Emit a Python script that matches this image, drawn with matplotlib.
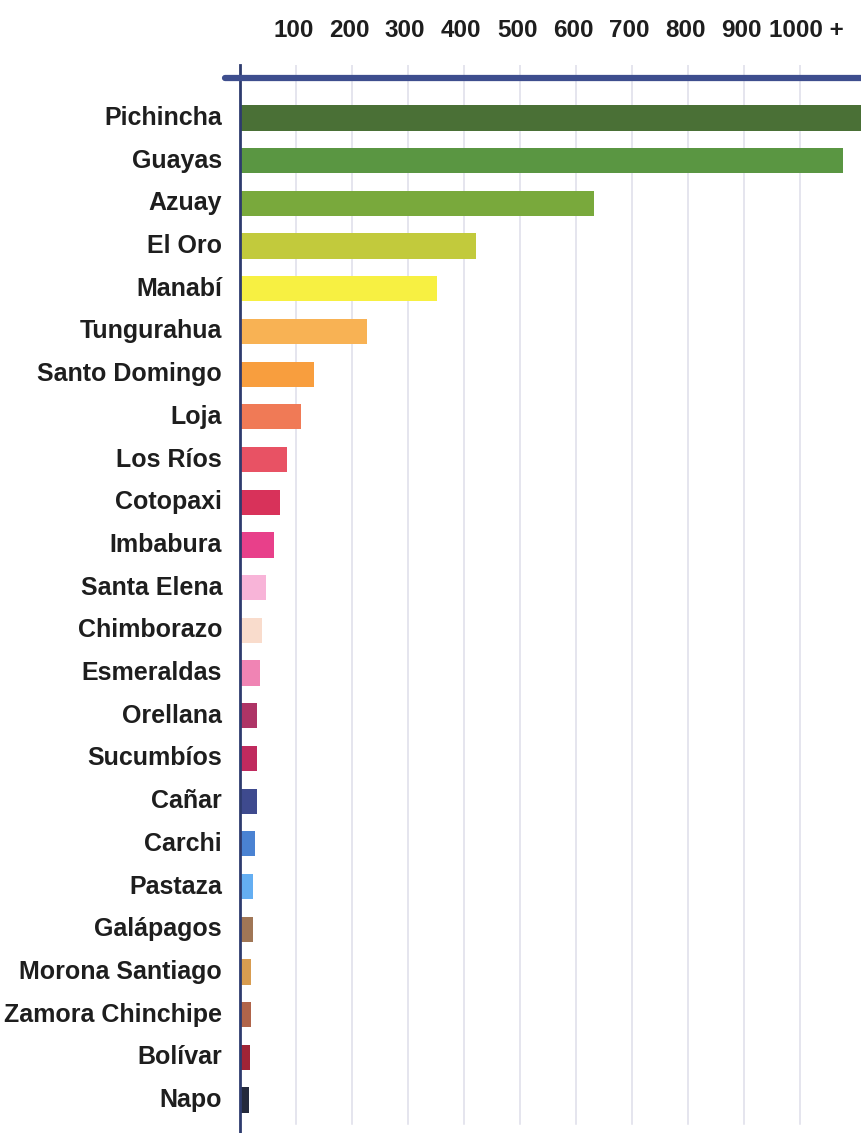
import matplotlib
matplotlib.use("Agg")
import matplotlib.pyplot as plt
import numpy as np

provinces = ["Pichincha", "Guayas", "Azuay", "El Oro", "Manabí", "Tungurahua",
             "Santo Domingo", "Loja", "Los Ríos", "Cotopaxi", "Imbabura",
             "Santa Elena", "Chimborazo", "Esmeraldas", "Orellana", "Sucumbíos",
             "Cañar", "Carchi", "Pastaza", "Galápagos", "Morona Santiago",
             "Zamora Chinchipe", "Bolívar", "Napo"]
values = [1150, 1075, 630, 420, 350, 225, 130, 107, 82, 70, 59, 45, 37, 34,
          29, 29, 29, 24, 21, 21, 18, 17, 16, 14]
colors = ["#4a7036", "#5a9642", "#79a93c", "#c2ca3c", "#f7f042", "#f8b254",
          "#f89e3e", "#f07a56", "#e85264", "#d8325a", "#e8408a", "#f8b4d8",
          "#f9dccc", "#f084b4", "#ae3466", "#c02a5e", "#3e4a8e", "#4a82d2",
          "#64aef2", "#a07656", "#d89c50", "#b0644a", "#a02436", "#242a3c"]
tick_values = [100, 200, 300, 400, 500, 600, 700, 800, 900, 1000]
tick_labels = ["100", "200", "300", "400", "500", "600", "700", "800", "900", "1000 +"]

W, H = 862, 1133
fig = plt.figure(figsize=(W / 100, H / 100), dpi=100)

x0_px, x1_px = 240, 862
top_px, bot_px = 65, 1133
ax = fig.add_axes([x0_px / W, 1 - bot_px / H, (x1_px - x0_px) / W, (bot_px - top_px) / H])

px_per_unit = 0.56
xmax = (x1_px - x0_px) / px_per_unit
row_px = (1100 - 118) / (len(provinces) - 1)
ymin = -(118 - top_px) / row_px
ymax = (len(provinces) - 1) + (bot_px - 1100) / row_px

y = np.arange(len(provinces))
ax.barh(y, values, height=0.59, color=colors, left=2, zorder=3)

for tv in tick_values:
    ax.plot([tv, tv], [ymin, ymax - 0.2], color="#dedeea", lw=1.1, zorder=1)

ax.set_xlim(0, xmax)
ax.set_ylim(ymax, ymin)
for s in ax.spines.values():
    s.set_visible(False)
ax.set_xticks([])
ax.set_yticks([])

# left axis line
ax.plot([0, 0], [ymin, ymax], color="#2e3b6e", lw=2.0, zorder=4, clip_on=False)
# top axis bar
axis_y = ymin + (78 - top_px) / row_px
ax.plot([-26, xmax], [axis_y, axis_y], color="#3e4e8e", lw=4.5,
        solid_capstyle="round", zorder=5, clip_on=False)

font = "Liberation Sans"
for yi, name in zip(y, provinces):
    ax.text(-32, yi, name, ha="right", va="center", fontsize=18,
            fontweight="bold", family=font, color="#1e1e1e")

label_y = ymin - (65 - 30) / row_px
for tv, tl in zip(tick_values, tick_labels):
    if tl.endswith("+"):
        ax.text(tv - 55, label_y, tl, ha="left", va="center", fontsize=17.5,
                fontweight="bold", family=font, color="#1e1e1e", clip_on=False)
    else:
        ax.text(tv - 5, label_y, tl, ha="center", va="center", fontsize=17.5,
                fontweight="bold", family=font, color="#1e1e1e", clip_on=False)

fig.savefig("out.png", dpi=100)
